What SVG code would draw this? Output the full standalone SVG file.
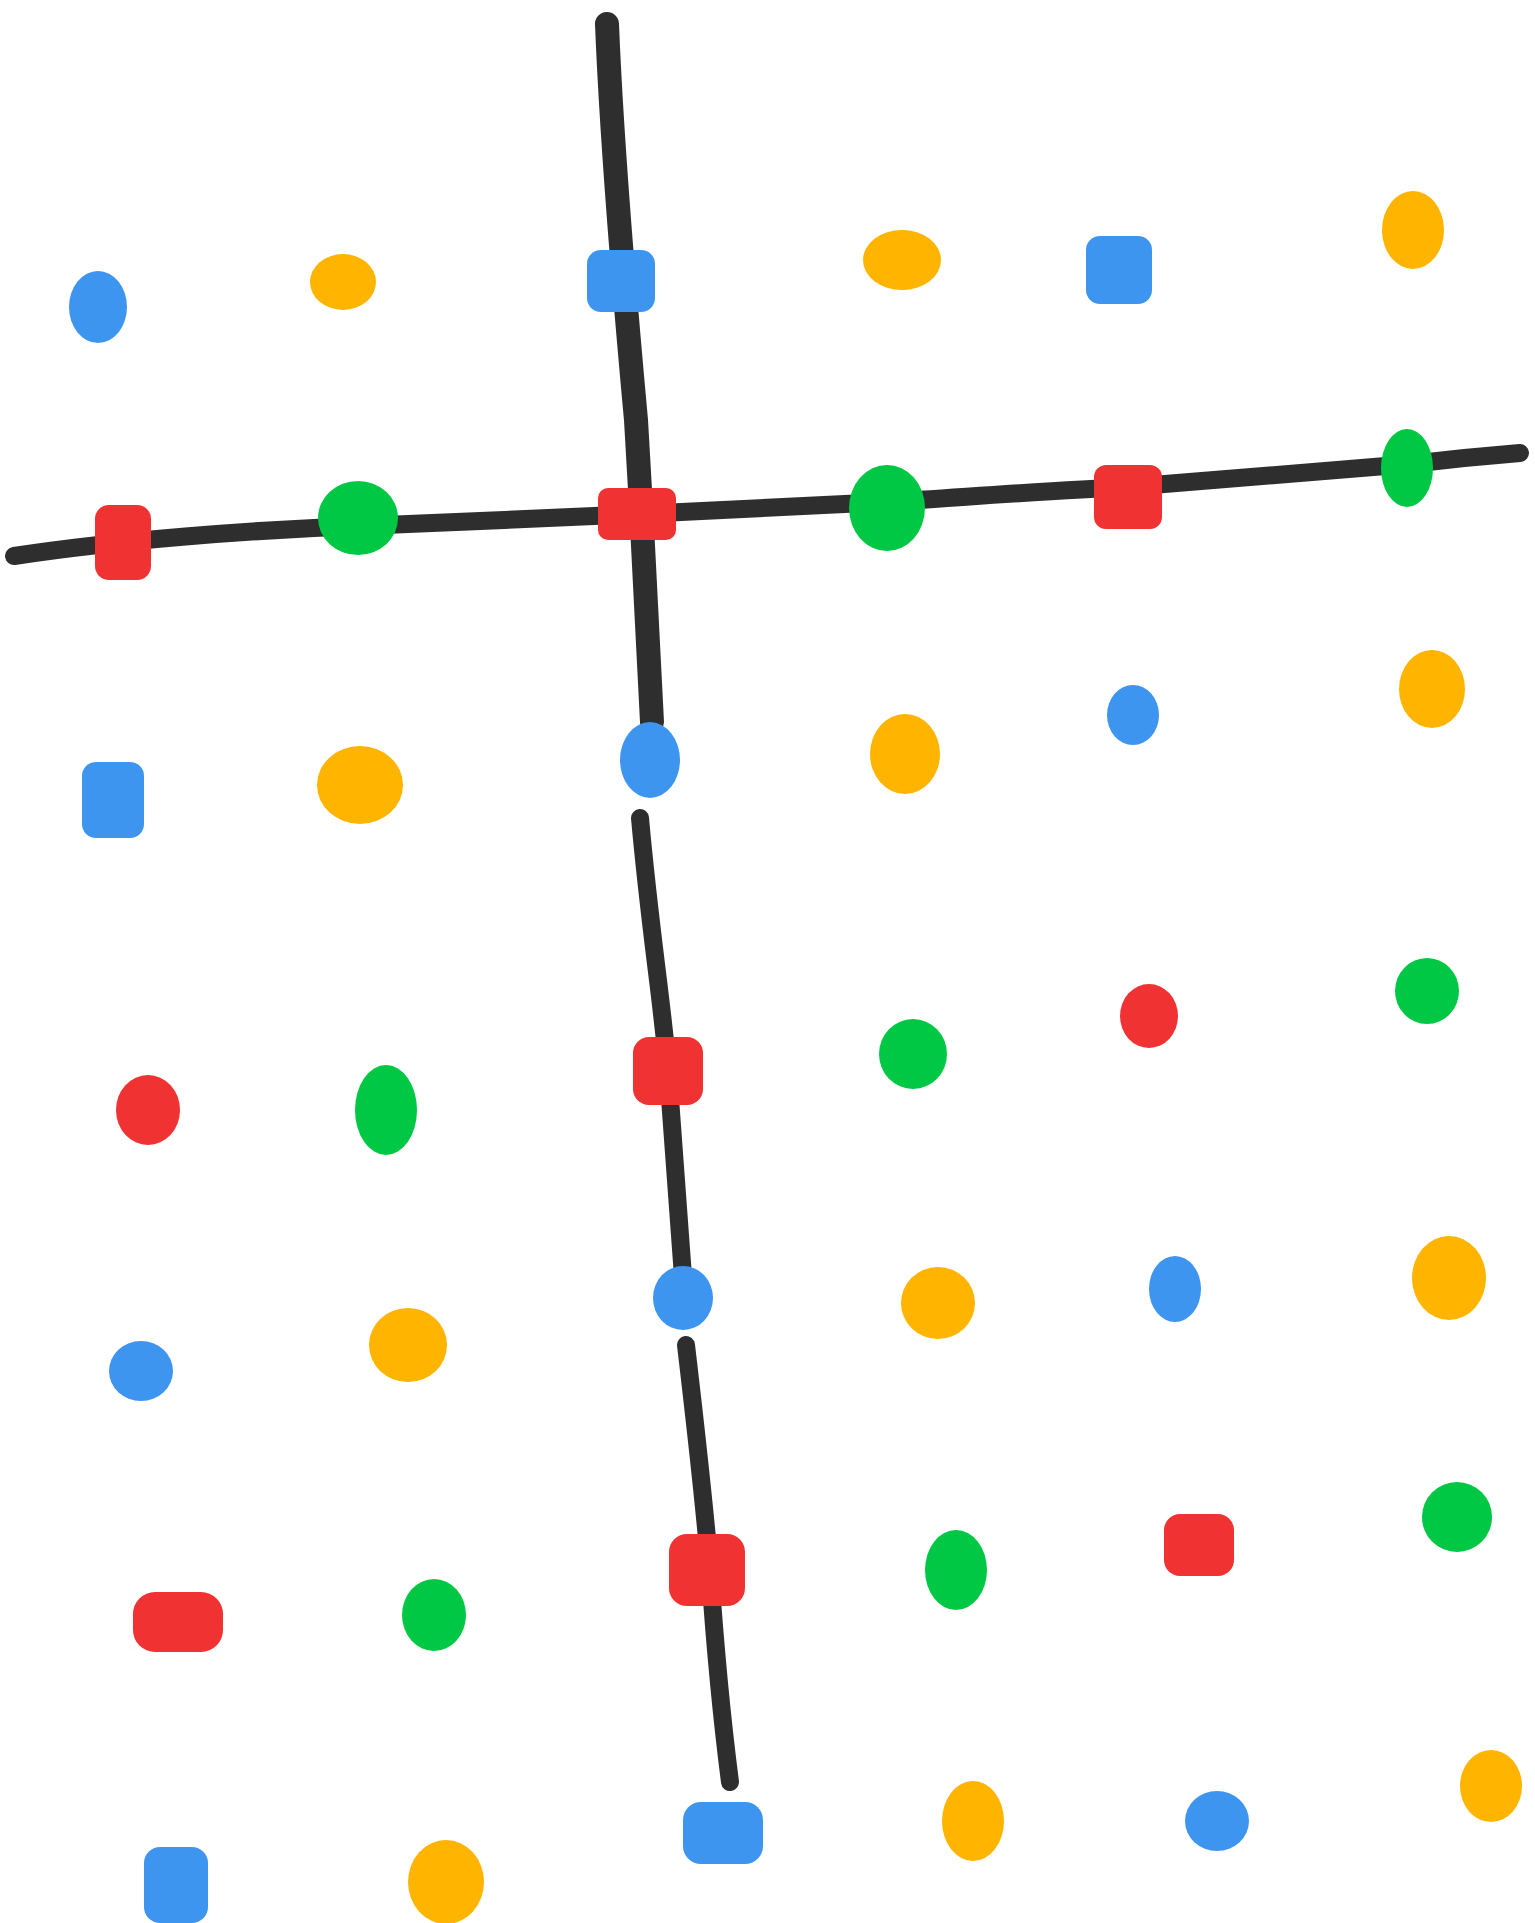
<svg xmlns="http://www.w3.org/2000/svg" width="1535" height="1923" viewBox="0 0 1535 1923">
<style>
.ln{fill:none;stroke:#1c1c1c;stroke-linecap:round;stroke-linejoin:round;opacity:0.92}
.b{fill:#3d95f0}.o{fill:#ffb400}.r{fill:#f03232}.g{fill:#00c845}
</style>
<rect width="1535" height="1923" fill="#ffffff"/>
<g id="connectors">
<path class="ln" stroke-width="18" d="M14,556 C120,540 250,530 360,526 C450,522 560,518 640,514 C720,510 800,506 886,502 C980,496 1060,490 1128,487 C1250,477 1350,468 1410,464 C1460,458 1495,455 1520,453"/>
<path class="ln" stroke-width="24" d="M607,24 C612,150 625,300 636,420 C642,520 646,600 652,722"/>
<path class="ln" stroke-width="18" d="M640,818 C650,930 662,1000 668,1072 C674,1150 680,1230 684,1290"/>
<path class="ln" stroke-width="18" d="M686,1345 C696,1430 704,1500 710,1572 C716,1660 722,1720 730,1782"/>
</g>
<g id="n1"><ellipse class="b" cx="98" cy="307" rx="29" ry="36"/></g>
<g id="n2"><ellipse class="o" cx="343" cy="282" rx="33" ry="28"/></g>
<g id="n3"><rect class="b" x="587" y="250" width="68" height="62" rx="14"/></g>
<g id="n4"><ellipse class="o" cx="902" cy="260" rx="39" ry="30"/></g>
<g id="n5"><rect class="b" x="1086" y="236" width="66" height="68" rx="14"/></g>
<g id="n6"><ellipse class="o" cx="1413" cy="230" rx="31" ry="39"/></g>
<g id="n7"><rect class="r" x="95" y="505" width="56" height="75" rx="14"/></g>
<g id="n8"><ellipse class="g" cx="358" cy="518" rx="40" ry="37"/></g>
<g id="n9"><rect class="r" x="598" y="488" width="78" height="52" rx="10"/></g>
<g id="n10"><ellipse class="g" cx="887" cy="508" rx="38" ry="43"/></g>
<g id="n11"><rect class="r" x="1094" y="465" width="68" height="64" rx="12"/></g>
<g id="n12"><ellipse class="g" cx="1407" cy="468" rx="26" ry="39"/></g>
<g id="n13"><rect class="b" x="82" y="762" width="62" height="76" rx="14"/></g>
<g id="n14"><ellipse class="o" cx="360" cy="785" rx="43" ry="39"/></g>
<g id="n15"><ellipse class="b" cx="650" cy="760" rx="30" ry="38"/></g>
<g id="n16"><ellipse class="o" cx="905" cy="754" rx="35" ry="40"/></g>
<g id="n17"><ellipse class="b" cx="1133" cy="715" rx="26" ry="30"/></g>
<g id="n18"><ellipse class="o" cx="1432" cy="689" rx="33" ry="39"/></g>
<g id="n19"><ellipse class="r" cx="148" cy="1110" rx="32" ry="35"/></g>
<g id="n20"><ellipse class="g" cx="386" cy="1110" rx="31" ry="45"/></g>
<g id="n21"><rect class="r" x="633" y="1037" width="70" height="68" rx="16"/></g>
<g id="n22"><ellipse class="g" cx="913" cy="1054" rx="34" ry="35"/></g>
<g id="n23"><ellipse class="r" cx="1149" cy="1016" rx="29" ry="32"/></g>
<g id="n24"><ellipse class="g" cx="1427" cy="991" rx="32" ry="33"/></g>
<g id="n25"><ellipse class="b" cx="141" cy="1371" rx="32" ry="30"/></g>
<g id="n26"><ellipse class="o" cx="408" cy="1345" rx="39" ry="37"/></g>
<g id="n27"><ellipse class="b" cx="683" cy="1298" rx="30" ry="32"/></g>
<g id="n28"><ellipse class="o" cx="938" cy="1303" rx="37" ry="36"/></g>
<g id="n29"><ellipse class="b" cx="1175" cy="1289" rx="26" ry="33"/></g>
<g id="n30"><ellipse class="o" cx="1449" cy="1278" rx="37" ry="42"/></g>
<g id="n31"><rect class="r" x="133" y="1592" width="90" height="60" rx="22"/></g>
<g id="n32"><ellipse class="g" cx="434" cy="1615" rx="32" ry="36"/></g>
<g id="n33"><rect class="r" x="669" y="1534" width="76" height="72" rx="18"/></g>
<g id="n34"><ellipse class="g" cx="956" cy="1570" rx="31" ry="40"/></g>
<g id="n35"><rect class="r" x="1164" y="1514" width="70" height="62" rx="16"/></g>
<g id="n36"><ellipse class="g" cx="1457" cy="1517" rx="35" ry="35"/></g>
<g id="n37"><rect class="b" x="144" y="1847" width="64" height="76" rx="16"/></g>
<g id="n38"><ellipse class="o" cx="446" cy="1882" rx="38" ry="42"/></g>
<g id="n39"><rect class="b" x="683" y="1802" width="80" height="62" rx="18"/></g>
<g id="n40"><ellipse class="o" cx="973" cy="1821" rx="31" ry="40"/></g>
<g id="n41"><ellipse class="b" cx="1217" cy="1821" rx="32" ry="30"/></g>
<g id="n42"><ellipse class="o" cx="1491" cy="1786" rx="31" ry="36"/></g>
</svg>
